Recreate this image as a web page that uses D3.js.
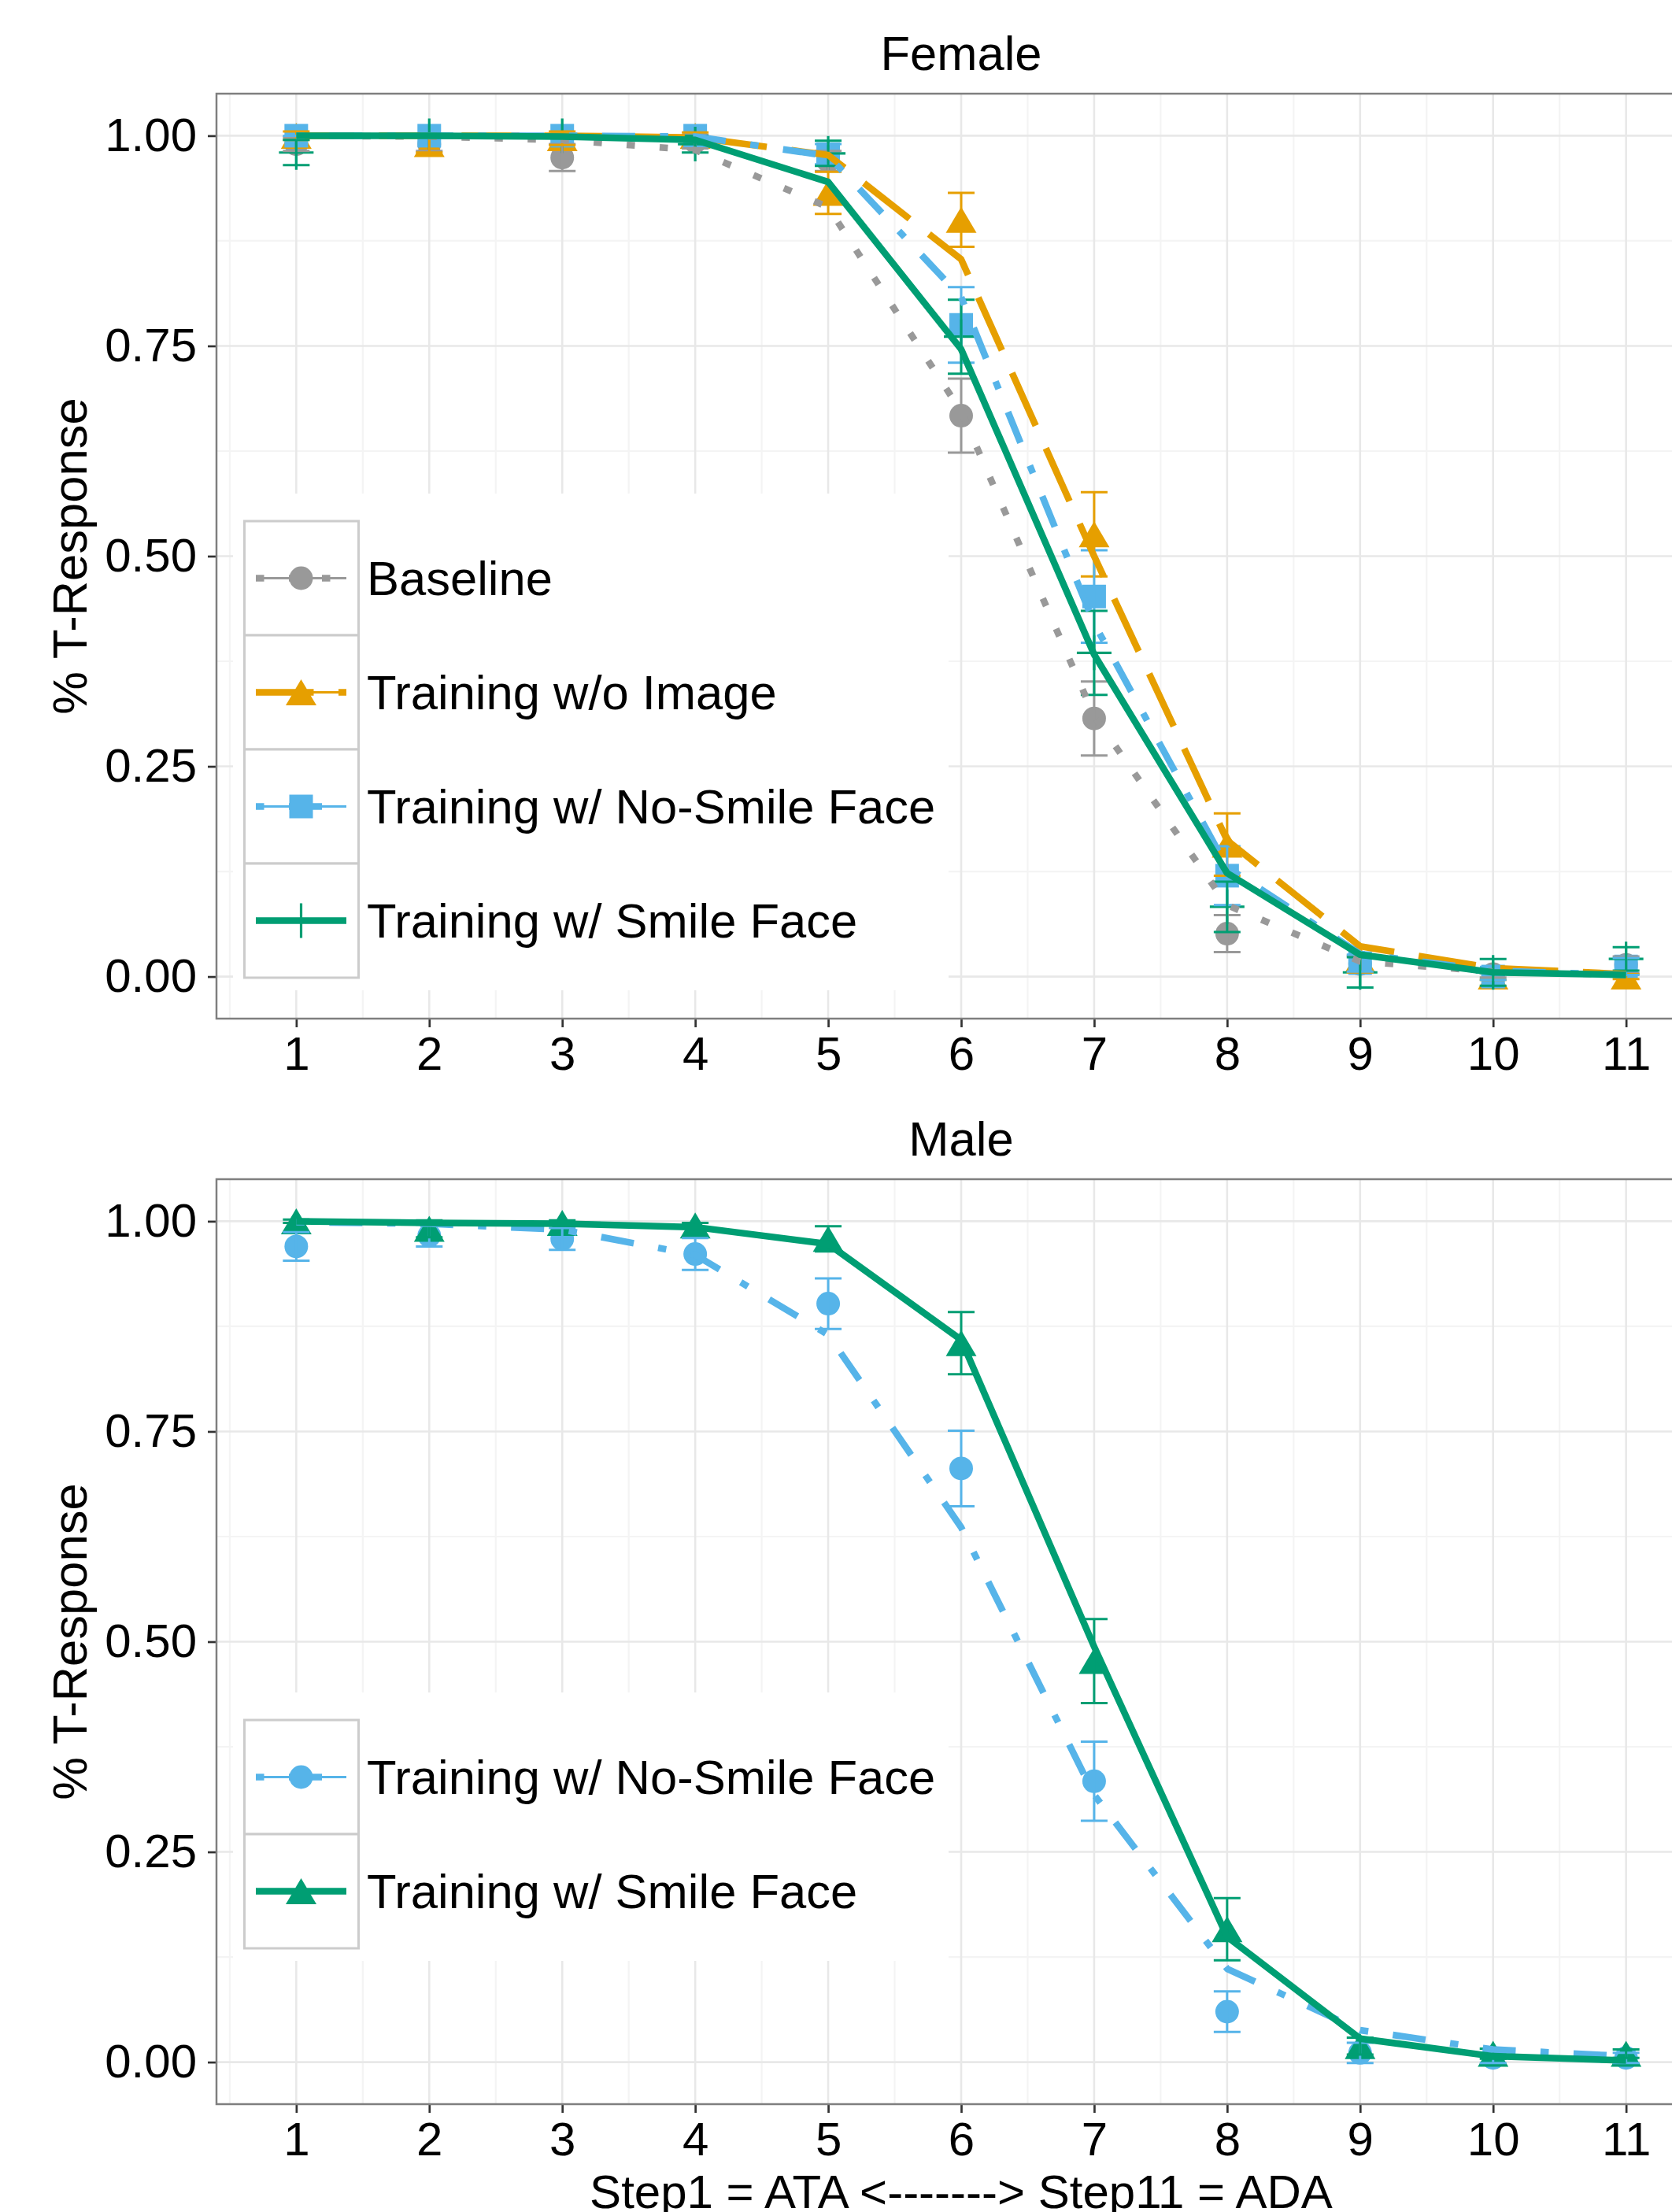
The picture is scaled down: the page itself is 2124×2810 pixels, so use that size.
<!DOCTYPE html>
<html>
<head>
<meta charset="utf-8">
<script src="https://cdn.jsdelivr.net/npm/d3@7"></script>
<style>
  body { margin: 0; background: #fff; }
  text { font-family: "Liberation Sans", Arial, Helvetica, sans-serif; }
</style>
</head>
<body>
<div id="chart"></div>
<script>
// ---- data ----
var steps = [1, 2, 3, 4, 5, 6, 7, 8, 9, 10, 11];
var yTicks = [0, 0.25, 0.5, 0.75, 1];
var femaleNames = ["Baseline", "Training w/o Image", "Training w/ No-Smile Face", "Training w/ Smile Face"];
var maleNames = ["Training w/ No-Smile Face", "Training w/ Smile Face"];

// Female: fitted lines, point means and standard errors
var fBaseLine    = [1.000, 0.999, 0.995, 0.983, 0.915, 0.672, 0.310, 0.085, 0.018, 0.006, 0.002];
var fBaseMean    = [0.990, 0.990, 0.974, 0.993, 0.970, 0.667, 0.307, 0.051, 0.015, 0.003, 0.014];
var fBaseSe      = [0.008, 0.008, 0.016, 0.008, 0.012, 0.044, 0.044, 0.022, 0.010, 0.004, 0.010];
var fNoImgLine   = [1.000, 1.000, 1.000, 0.998, 0.977, 0.853, 0.500, 0.162, 0.036, 0.010, 0.003];
var fNoImgMean   = [1.000, 0.990, 0.997, 1.000, 0.932, 0.900, 0.526, 0.157, 0.020, 0.000, 0.000];
var fNoImgSe     = [0.005, 0.010, 0.008, 0.004, 0.025, 0.032, 0.050, 0.037, 0.015, 0.004, 0.003];
var fNoSmileLine = [1.000, 1.000, 1.000, 0.999, 0.976, 0.808, 0.420, 0.130, 0.027, 0.007, 0.002];
var fNoSmileMean = [1.000, 1.000, 1.000, 1.000, 0.978, 0.775, 0.452, 0.120, 0.016, 0.000, 0.012];
var fNoSmileSe   = [0.000, 0.000, 0.000, 0.000, 0.012, 0.045, 0.055, 0.035, 0.010, 0.004, 0.010];
var fSmileLine   = [1.000, 1.000, 0.999, 0.995, 0.945, 0.746, 0.383, 0.123, 0.026, 0.005, 0.002];
var fSmileMean   = [0.980, 1.000, 1.000, 0.990, 0.979, 0.761, 0.385, 0.083, 0.005, 0.005, 0.021];
var fSmileSe     = [0.015, 0.000, 0.000, 0.010, 0.015, 0.044, 0.050, 0.030, 0.018, 0.016, 0.014];

// Male
var mNoSmileLine = [0.999, 0.997, 0.990, 0.960, 0.865, 0.636, 0.318, 0.111, 0.038, 0.015, 0.007];
var mNoSmileMean = [0.970, 0.983, 0.979, 0.961, 0.902, 0.706, 0.334, 0.060, 0.011, 0.005, 0.005];
var mNoSmileSe   = [0.017, 0.013, 0.013, 0.019, 0.030, 0.045, 0.047, 0.024, 0.012, 0.006, 0.006];
var mSmileLine   = [1.000, 0.998, 0.997, 0.993, 0.973, 0.859, 0.494, 0.149, 0.028, 0.007, 0.002];
var mSmileMean   = [1.000, 0.991, 0.998, 0.995, 0.979, 0.855, 0.477, 0.158, 0.019, 0.010, 0.010];
var mSmileSe     = [0.002, 0.010, 0.003, 0.003, 0.015, 0.037, 0.050, 0.037, 0.010, 0.006, 0.005];

// ---- styles ----
var u = 10.5; // dash unit
var GRAY = "#999999", ORANGE = "#E69F00", BLUE = "#56B4E9", GREEN = "#009E73";
var DOTTED = [u, 3 * u].join(","),
    LONGDASH = [7 * u, 3 * u].join(","),
    DOTDASH = [u, 3 * u, 4 * u, 3 * u].join(",");
var FS = 61.5;

var panels = [
  { title: "Female", top: 119, bottom: 1294, legendTop: 662,
    series: [
      { name: femaleNames[0], color: GRAY,   shape: "circle",   dash: DOTTED,   fit: fBaseLine,    mean: fBaseMean,    se: fBaseSe },
      { name: femaleNames[1], color: ORANGE, shape: "triangle", dash: LONGDASH, fit: fNoImgLine,   mean: fNoImgMean,   se: fNoImgSe },
      { name: femaleNames[2], color: BLUE,   shape: "square",   dash: DOTDASH,  fit: fNoSmileLine, mean: fNoSmileMean, se: fNoSmileSe },
      { name: femaleNames[3], color: GREEN,  shape: "plus",     dash: null,     fit: fSmileLine,   mean: fSmileMean,   se: fSmileSe }
    ] },
  { title: "Male", top: 1498, bottom: 2673, legendTop: 2185,
    series: [
      { name: maleNames[0], color: BLUE,  shape: "circle",   dash: DOTDASH, fit: mNoSmileLine, mean: mNoSmileMean, se: mNoSmileSe },
      { name: maleNames[1], color: GREEN, shape: "triangle", dash: null,    fit: mSmileLine,   mean: mSmileMean,   se: mSmileSe }
    ] }
];

var W = 2124, H = 2810;
var left = 275, right = 2167;
var lineW = 8.5, barW = 3, capHalf = 17;

var svg = d3.select("#chart").append("svg")
  .attr("width", W).attr("height", H)
  .style("background", "#fff");

function addShape(sel, shape, color) {
  if (shape == "circle") {
    sel.append("circle").attr("r", 15).attr("fill", color);
  } else if (shape == "square") {
    sel.append("rect").attr("x", -15).attr("y", -15).attr("width", 30).attr("height", 30).attr("fill", color);
  } else if (shape == "triangle") {
    sel.append("path").attr("d", "M0,-16.5L19.5,16.5L-19.5,16.5Z").attr("fill", color);
  } else {
    sel.append("path").attr("d", "M-22,0H22M0,-22V22")
      .attr("stroke", color).attr("stroke-width", 3.2).attr("fill", "none");
  }
}

function drawPanel(p) {
  var x = d3.scaleLinear().domain([0.4, 11.6]).range([left, right]);
  var y = d3.scaleLinear().domain([-0.05, 1.05]).range([p.bottom, p.top]);
  var g = svg.append("g");

  // grid
  var xMinor = d3.range(0.5, 12, 1);
  var yMinor = [0.125, 0.375, 0.625, 0.875];
  g.selectAll(".vminor").data(xMinor).enter().append("line")
    .attr("x1", d => x(d)).attr("x2", d => x(d)).attr("y1", p.top).attr("y2", p.bottom)
    .attr("stroke", "#f4f4f4").attr("stroke-width", 2.2);
  g.selectAll(".hminor").data(yMinor).enter().append("line")
    .attr("x1", left).attr("x2", right).attr("y1", d => y(d)).attr("y2", d => y(d))
    .attr("stroke", "#f4f4f4").attr("stroke-width", 2.2);
  g.selectAll(".vmajor").data(steps).enter().append("line")
    .attr("x1", d => x(d)).attr("x2", d => x(d)).attr("y1", p.top).attr("y2", p.bottom)
    .attr("stroke", "#e8e8e8").attr("stroke-width", 2.6);
  g.selectAll(".hmajor").data(yTicks).enter().append("line")
    .attr("x1", left).attr("x2", right).attr("y1", d => y(d)).attr("y2", d => y(d))
    .attr("stroke", "#e8e8e8").attr("stroke-width", 2.6);

  // legend background (covers the grid)
  var keyH = 145, keyL = 310.5, keyR = 455.5;
  var nKeys = p.series.length;
  g.append("rect")
    .attr("x", 296).attr("y", p.legendTop - 35)
    .attr("width", 1205 - 296).attr("height", nKeys * keyH + 51)
    .attr("fill", "#fff");

  // points
  p.series.forEach(function(s) {
    g.selectAll(null).data(steps).enter().append("g")
      .attr("transform", (d, i) => "translate(" + x(d) + "," + y(s.mean[i]) + ")")
      .each(function() { addShape(d3.select(this), s.shape, s.color); });
  });

  // error bars
  p.series.forEach(function(s) {
    var eb = g.selectAll(null).data(steps).enter().append("g")
      .attr("stroke", s.color).attr("stroke-width", barW).attr("fill", "none");
    eb.append("path").attr("d", function(d, i) {
      var cx = x(d), y1 = y(s.mean[i] + s.se[i]), y2 = y(s.mean[i] - s.se[i]);
      return "M" + (cx - capHalf) + "," + y1 + "H" + (cx + capHalf) +
             "M" + cx + "," + y1 + "V" + y2 +
             "M" + (cx - capHalf) + "," + y2 + "H" + (cx + capHalf);
    });
  });

  // fitted lines
  var line = d3.line().x((d, i) => x(steps[i])).y(d => y(d));
  p.series.forEach(function(s) {
    g.append("path").datum(s.fit)
      .attr("d", line)
      .attr("fill", "none")
      .attr("stroke", s.color)
      .attr("stroke-width", lineW)
      .attr("stroke-linejoin", "round")
      .attr("stroke-dasharray", s.dash);
  });

  // legend keys
  p.series.forEach(function(s, k) {
    var top = p.legendTop + k * keyH, cy = top + keyH / 2;
    var kg = g.append("g");
    kg.append("rect").attr("x", keyL).attr("y", top).attr("width", keyR - keyL).attr("height", keyH)
      .attr("fill", "#fff").attr("stroke", "#cccccc").attr("stroke-width", 3);
    kg.append("line").attr("x1", 325).attr("x2", 440).attr("y1", cy).attr("y2", cy)
      .attr("stroke", s.color).attr("stroke-width", barW);
    kg.append("line").attr("x1", 325).attr("x2", 440).attr("y1", cy).attr("y2", cy)
      .attr("stroke", s.color).attr("stroke-width", lineW).attr("stroke-dasharray", s.dash);
    var pg = kg.append("g").attr("transform", "translate(382.5," + cy + ")");
    addShape(pg, s.shape, s.color);
    kg.append("text").attr("x", 466).attr("y", cy).attr("dy", "0.35em")
      .attr("font-size", FS).attr("fill", "#000").text(s.name);
  });

  // axes
  var ya = g.append("g").attr("transform", "translate(" + left + ",0)")
    .call(d3.axisLeft(y).tickValues(yTicks).tickFormat(d3.format(".2f")).tickSize(11).tickPadding(14));
  var xa = g.append("g").attr("transform", "translate(0," + p.bottom + ")")
    .call(d3.axisBottom(x).tickValues(steps).tickFormat(d3.format("d")).tickSize(11).tickPadding(11));
  [ya, xa].forEach(function(a) {
    a.select(".domain").remove();
    a.selectAll(".tick line").attr("stroke", "#333").attr("stroke-width", 2.7);
    a.selectAll(".tick text").attr("font-size", 60).attr("fill", "#000")
      .attr("font-family", "'Liberation Sans', Arial, Helvetica, sans-serif");
  });

  // panel border
  g.append("rect").attr("x", left).attr("y", p.top)
    .attr("width", right - left).attr("height", p.bottom - p.top)
    .attr("fill", "none").attr("stroke", "#7f7f7f").attr("stroke-width", 2.5);

  // strip title
  g.append("text").attr("x", (left + right) / 2).attr("y", p.top - 30)
    .attr("text-anchor", "middle").attr("font-size", FS).attr("fill", "#000").text(p.title);

  // y axis title
  g.append("text")
    .attr("transform", "translate(110," + (p.top + p.bottom) / 2 + ") rotate(-90)")
    .attr("text-anchor", "middle").attr("font-size", FS).attr("fill", "#000")
    .text("% T-Response");
}

panels.forEach(drawPanel);

// x axis title (the reference crops its descenders at the bottom edge)
svg.append("text").attr("x", (left + right) / 2).attr("y", 2805)
  .attr("text-anchor", "middle").attr("font-size", 60).attr("fill", "#000")
  .text("Step1 = ATA <-------> Step11 = ADA");
</script>
</body>
</html>
